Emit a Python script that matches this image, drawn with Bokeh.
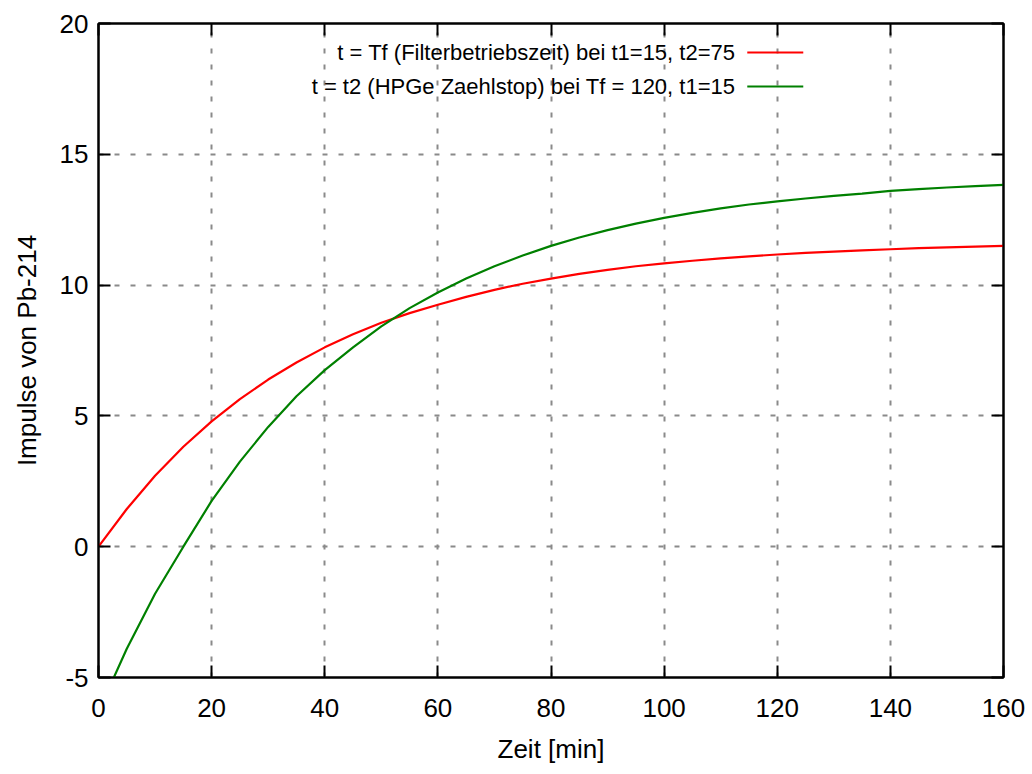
from bokeh.plotting import figure
from bokeh.models import (Range1d, LinearAxis, FixedTicker, Label, BoxAnnotation,
                          PrintfTickFormatter)
from bokeh.embed import file_html
from bokeh.resources import INLINE

# --- data ---
x_min = [0, 5, 10, 15, 20, 25, 30, 35, 40, 45, 50, 55, 60, 65, 70, 75, 80,
         85, 90, 95, 100, 105, 110, 115, 120, 125, 130, 135, 140, 145, 150, 155, 160]
red_tf = [0.0, 1.44, 2.71, 3.82, 4.79, 5.64, 6.39, 7.04, 7.62, 8.12, 8.56, 8.93,
          9.25, 9.55, 9.82, 10.05, 10.25, 10.43, 10.58, 10.72, 10.83, 10.93, 11.02,
          11.10, 11.17, 11.23, 11.28, 11.33, 11.37, 11.41, 11.44, 11.47, 11.50]
green_t2 = [-6.3, -3.9, -1.8, 0.0, 1.75, 3.25, 4.58, 5.75, 6.75, 7.62, 8.42, 9.12,
            9.72, 10.25, 10.72, 11.13, 11.50, 11.82, 12.10, 12.35, 12.57, 12.76,
            12.93, 13.08, 13.20, 13.31, 13.41, 13.50, 13.60, 13.67, 13.73, 13.78, 13.83]
x_ticks = [0, 20, 40, 60, 80, 100, 120, 140, 160]
y_ticks = [-5, 0, 5, 10, 15, 20]
legend_labels = ["t = Tf (Filterbetriebszeit) bei t1=15, t2=75",
                 "t = t2 (HPGe Zaehlstop) bei Tf = 120, t1=15"]
series_colors = ["#ff0000", "#008000"]

FONT = "Liberation Sans"
W, H = 1030, 772

p = figure(width=W, height=H, output_backend="svg", toolbar_location=None,
           x_range=Range1d(0, 160), y_range=Range1d(-5, 20),
           min_border_left=98, min_border_right=27, min_border_top=23,
           min_border_bottom=95)
p.background_fill_color = "white"
p.border_fill_color = "white"
p.outline_line_color = "black"
p.outline_line_width = 2

p.line(x_min, red_tf, line_color=series_colors[0], line_width=2.2)
p.line(x_min, green_t2, line_color=series_colors[1], line_width=2.2)

# grid
for g in (p.xgrid, p.ygrid):
    g.grid_line_color = "#8a8a8a"
    g.grid_line_width = 2
    g.grid_line_dash = "5 11"
p.xgrid.ticker = FixedTicker(ticks=x_ticks[1:-1])
p.ygrid.ticker = FixedTicker(ticks=y_ticks[1:-1])

def style_axis(ax, ticks, labels=True):
    ax.ticker = FixedTicker(ticks=ticks)
    ax.formatter = PrintfTickFormatter(format="%d")
    ax.axis_line_color = "black"
    ax.axis_line_width = 2
    ax.major_tick_line_color = "black"
    ax.major_tick_line_width = 2
    ax.major_tick_in = 12
    ax.major_tick_out = 0
    ax.minor_tick_line_color = None
    ax.major_label_text_font = FONT
    ax.major_label_text_font_size = "26px"
    ax.major_label_text_color = "black"
    ax.axis_label_text_font = FONT
    ax.axis_label_text_font_size = "26px"
    ax.axis_label_text_font_style = "normal"
    ax.axis_label_text_color = "black"
    if not labels:
        ax.major_label_text_font_size = "0px"
        ax.major_label_text_color = None
        ax.major_label_standoff = 0

style_axis(p.xaxis[0], x_ticks)
style_axis(p.yaxis[0], y_ticks)
p.xaxis[0].axis_label = "Zeit [min]"
p.yaxis[0].axis_label = "Impulse von Pb-214"
p.xaxis[0].major_label_standoff = 21
p.yaxis[0].major_label_standoff = 10
p.xaxis[0].axis_label_standoff = 14
p.yaxis[0].axis_label_standoff = 15

top_ax = LinearAxis()
right_ax = LinearAxis()
style_axis(top_ax, x_ticks, labels=False)
style_axis(right_ax, y_ticks, labels=False)
p.add_layout(top_ax, "above")
p.add_layout(right_ax, "right")

# legend (text right-aligned, line sample on the right, like gnuplot)
leg_text_x = 112.6
leg_rows_y = [18.89, 17.59]
swatch_x = (114.7, 124.6)
for lbl, col, ty in zip(legend_labels, series_colors, leg_rows_y):
    p.add_layout(Label(x=leg_text_x, y=ty, text=lbl, text_align="right",
                       text_baseline="middle", text_font=FONT,
                       text_font_size="22px", text_color="black"))
    p.add_layout(BoxAnnotation(left=swatch_x[0], right=swatch_x[1],
                               bottom=ty - 0.04, top=ty + 0.04,
                               fill_color=col, fill_alpha=1.0, line_color=None))

open("out.html", "w").write(file_html(p, INLINE))
